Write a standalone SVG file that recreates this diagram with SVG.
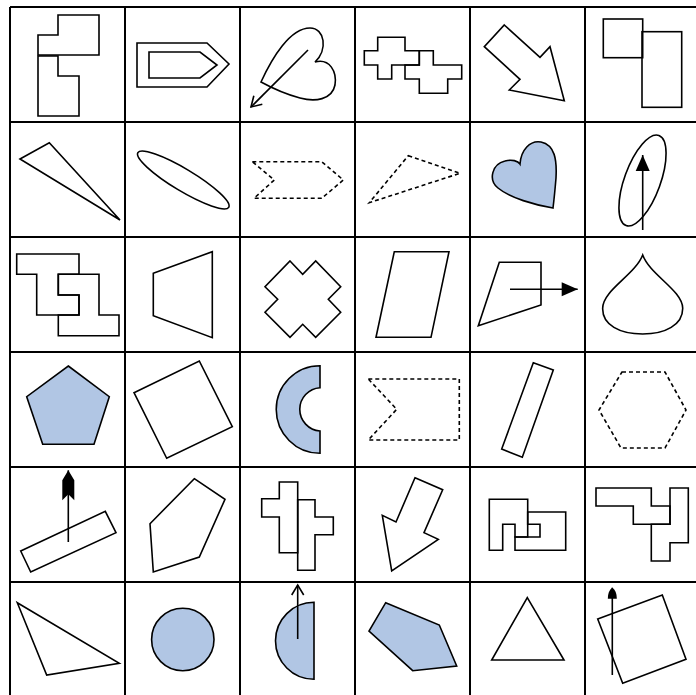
<svg xmlns="http://www.w3.org/2000/svg" width="696" height="695" viewBox="0 0 696 695">
<style>
.s{fill:none;stroke:#000;stroke-width:1.6;stroke-linejoin:miter}
.b{fill:#b1c6e4;stroke:#000;stroke-width:1.6}
.d{fill:none;stroke:#000;stroke-width:1.6;stroke-dasharray:4 3}
.g{stroke:#000;stroke-width:2}
.c{fill:none;stroke:#000;stroke-width:1.6}
</style>
<defs>
<marker id="open" markerUnits="userSpaceOnUse" viewBox="-15 -10 20 20" markerWidth="20" markerHeight="20" refX="0" refY="0" orient="auto" overflow="visible">
<path d="M-10,-6 L0,0 L-10,6" fill="none" stroke="#000" stroke-width="1.6"/>
</marker>
<marker id="fill" markerUnits="userSpaceOnUse" viewBox="-20 -10 24 20" markerWidth="24" markerHeight="20" refX="0" refY="0" orient="auto" overflow="visible">
<path d="M-16,-7 L0,0 L-16,7 Z" fill="#000"/>
</marker>
<marker id="notch" markerUnits="userSpaceOnUse" viewBox="-34 -10 38 20" markerWidth="38" markerHeight="20" refX="0" refY="0" orient="auto" overflow="visible">
<path d="M0,0 L-10,-6 L-30,-6 L-24,0 L-30,6 L-10,6 Z" fill="#000"/>
</marker>
<marker id="small" markerUnits="userSpaceOnUse" viewBox="-15 -10 20 20" markerWidth="20" markerHeight="20" refX="0" refY="0" orient="auto" overflow="visible">
<path d="M0,0 Q-3,-4.5 -11,-4.5 L-11,4.5 Q-3,4.5 0,0 Z" fill="#000"/>
</marker>
</defs>
<rect width="696" height="695" fill="#fff"/>
<g id="grid">
<line class="g" x1="10" y1="7" x2="10" y2="697"/>
<line class="g" x1="125" y1="7" x2="125" y2="697"/>
<line class="g" x1="240" y1="7" x2="240" y2="697"/>
<line class="g" x1="355" y1="7" x2="355" y2="697"/>
<line class="g" x1="470" y1="7" x2="470" y2="697"/>
<line class="g" x1="585" y1="7" x2="585" y2="697"/>
<line class="g" x1="10" y1="7" x2="700" y2="7"/>
<line class="g" x1="10" y1="122" x2="700" y2="122"/>
<line class="g" x1="10" y1="237" x2="700" y2="237"/>
<line class="g" x1="10" y1="352" x2="700" y2="352"/>
<line class="g" x1="10" y1="467" x2="700" y2="467"/>
<line class="g" x1="10" y1="582" x2="700" y2="582"/>
</g>
<g id="r1c1"><polygon class="s" points="58,15 99,15 99,55 38,55 38,35 58,35"/><polygon class="s" points="38,56 58,56 58,76 79,76 79,116 38,116"/></g>
<g id="r1c2"><polygon class="s" points="137,43 207,43 229,64 207,87 137,87"/><polygon class="s" points="149,52 200,52 217,65 200,78 149,78"/></g>
<g id="r1c3"><path class="s" d="M261,82 C272,58 290,28 310,28 C325,28 328,50 315,62 C330,58 337,72 335,85 C332,100 315,102 300,98 C285,94 272,88 261,82 Z"/></g>
<g id="r1c4"><polygon class="s" points="377.7,37.3 405,37.3 405,50.7 419.3,50.7 419.3,65 391.7,65 391.7,79 377.7,79 377.7,65 364.3,65 364.3,50.7 377.7,50.7"/><polygon class="s" points="419.3,50.7 433.3,50.7 433.3,65 461.7,65 461.7,79 447.7,79 447.7,93.3 419.3,93.3 419.3,79 405,79 405,65 419.3,65"/></g>
<g id="r1c5"><polygon class="s" points="504.3,25 540,57.3 550,46.7 564.3,100.7 509.3,90 520,79.3 484.3,46.7"/></g>
<g id="r1c6"><rect class="s" x="603.3" y="19" width="39.4" height="38.7"/><rect class="s" x="642" y="31.7" width="39.7" height="75.6"/></g>
<g id="r2c1"><polygon class="s" points="20,159 49.3,142.7 120,220"/></g>
<g id="r2c2"><ellipse class="s" cx="183.3" cy="180" rx="53" ry="11" transform="rotate(31 183.3 180)"/></g>
<g id="r2c3"><polygon class="d" points="252.3,161.7 321.7,161.7 343.3,180 321.7,198.3 254,198.3 274.3,180"/></g>
<g id="r2c4"><polygon class="d" points="408.3,155.7 460,173.3 369.3,202.7"/></g>
<g id="r2c5"><path class="b" d="M553,208 C535,205 510,198 498,188 C488,180 492,164 505,161 C512,159 518,161 520,164 C521,150 530,140 541,142 C555,145 557,160 556,178 C555,190 554,200 553,208 Z"/></g>
<g id="r2c6"><ellipse class="s" cx="642.5" cy="180.5" rx="18" ry="48" transform="rotate(20 642.5 180.5)"/></g>
<g id="r3c1"><polygon class="s" points="16.7,254 79,254 79,274.3 58.3,274.3 58.3,295 79,295 79,315 36.7,315 36.7,274.3 16.7,274.3"/><polygon class="s" points="58.3,274.3 99,274.3 99,315 119,315 119,335.7 58.3,335.7 58.3,315 79,315 79,295 58.3,295"/></g>
<g id="r3c2"><polygon class="s" points="153.3,273.3 212.3,251.7 212.3,337.7 153.3,315.7"/></g>
<g id="r3c3"><polygon class="s" points="290,261 302.7,274.3 315.7,261 340.7,286.7 328.3,299.3 340.7,312.3 315.7,337.3 302.7,324.3 290,337.3 265,312.3 277.7,299.3 265,286.7"/></g>
<g id="r3c4"><polygon class="s" points="394.3,251.7 449,251.7 431,337.3 376,337.3"/></g>
<g id="r3c5"><polygon class="s" points="499.3,262.3 541,262.3 541,305 478.3,325.7"/></g>
<g id="r3c6"><path class="s" d="M642.7,255 C650,275 682,290 682.7,308 C683,325 665,334 642.7,334 C620,334 602,325 602.7,308 C603,290 635,275 642.7,255 Z"/></g>
<g id="r4c1"><polygon class="b" points="68.3,366 109.3,396.7 94,444.3 42.7,444.3 26.7,396.7"/></g>
<g id="r4c2"><polygon class="s" points="134,392.7 199.3,361 232.3,426.7 166.7,458.3"/></g>
<g id="r4c3"><path class="b" d="M320,365.7 A43.8,43.8 0 0 0 320,453.3 L320,431 A21.7,21.7 0 0 1 320,387.7 Z"/></g>
<g id="r4c4"><polygon class="d" points="368.3,379 459.3,379 459.3,440 368.3,440 396.7,409.3"/></g>
<g id="r4c5"><polygon class="s" points="533.3,362.7 553.3,370 522.3,457.3 501.7,449"/></g>
<g id="r4c6"><polygon class="d" points="622,372 665,372 686,410 665,448 621,448 599,410"/></g>
<g id="r5c1"><polygon class="s" points="20.7,551 105.3,511.3 116,532.7 30.7,572"/></g>
<g id="r5c2"><polygon class="s" points="194.3,478.7 225,499.3 199.3,557 153.3,572 150,523.7"/></g>
<g id="r5c3"><polygon class="s" points="279.3,482 297.7,482 297.7,552.7 279.3,552.7 279.3,517 261.7,517 261.7,498.7 279.3,498.7"/><polygon class="s" points="297.7,499.7 315,499.7 315,517 333.3,517 333.3,534.7 315,534.7 315,570.3 297.7,570.3"/></g>
<g id="r5c4"><polygon class="s" points="415,477.7 442.7,489.7 424,532.7 438.3,539.3 391.7,571 382.3,515.3 396,522"/></g>
<g id="r5c5"><polygon class="s" points="489.3,499.3 527.7,499.3 527.7,537 515,537 515,524.3 502.7,524.3 502.7,550.3 489.3,550.3"/><polygon class="s" points="527.7,512 565.7,512 565.7,550.3 515,550.3 515,537 540,537 540,524.3 527.7,524.3"/></g>
<g id="r5c6"><polygon class="s" points="596,488 651.3,488 651.3,506 670,506 670,524.3 633.3,524.3 633.3,506 596,506"/><polygon class="s" points="670,488 688.3,488 688.3,542.7 670,542.7 670,561 651.3,561 651.3,524.3 670,524.3"/></g>
<g id="r6c1"><polygon class="s" points="17.3,602.7 119.3,663.3 46.7,675"/></g>
<g id="r6c2"><circle class="b" cx="182.8" cy="639.5" r="31.2"/></g>
<g id="r6c3"><path class="b" d="M314,602.3 A38.5,38.5 0 0 0 314,679.3 Z"/></g>
<g id="r6c4"><polygon class="b" points="385.7,602.7 439.3,625 456.7,666 412.7,670.7 369,631"/></g>
<g id="r6c5"><polygon class="s" points="527.3,597.7 564,660 491.7,660"/></g>
<g id="r6c6"><polygon class="s" points="597.7,619 662.3,595 686,659.3 622.7,683.3"/></g>
<g id="connectors">
<line class="c" x1="308" y1="50" x2="251" y2="107" marker-end="url(#open)"/>
<line class="c" x1="642.7" y1="230" x2="642.7" y2="155" marker-end="url(#fill)"/>
<line class="c" x1="510" y1="289.3" x2="577.7" y2="289.3" marker-end="url(#fill)"/>
<line class="c" x1="68.3" y1="542" x2="68.3" y2="470.3" marker-end="url(#notch)"/>
<line class="c" x1="297.7" y1="639" x2="297.7" y2="585" marker-end="url(#open)"/>
<line class="c" x1="612.3" y1="675" x2="612.3" y2="587.7" marker-end="url(#small)"/>
</g>
</svg>
